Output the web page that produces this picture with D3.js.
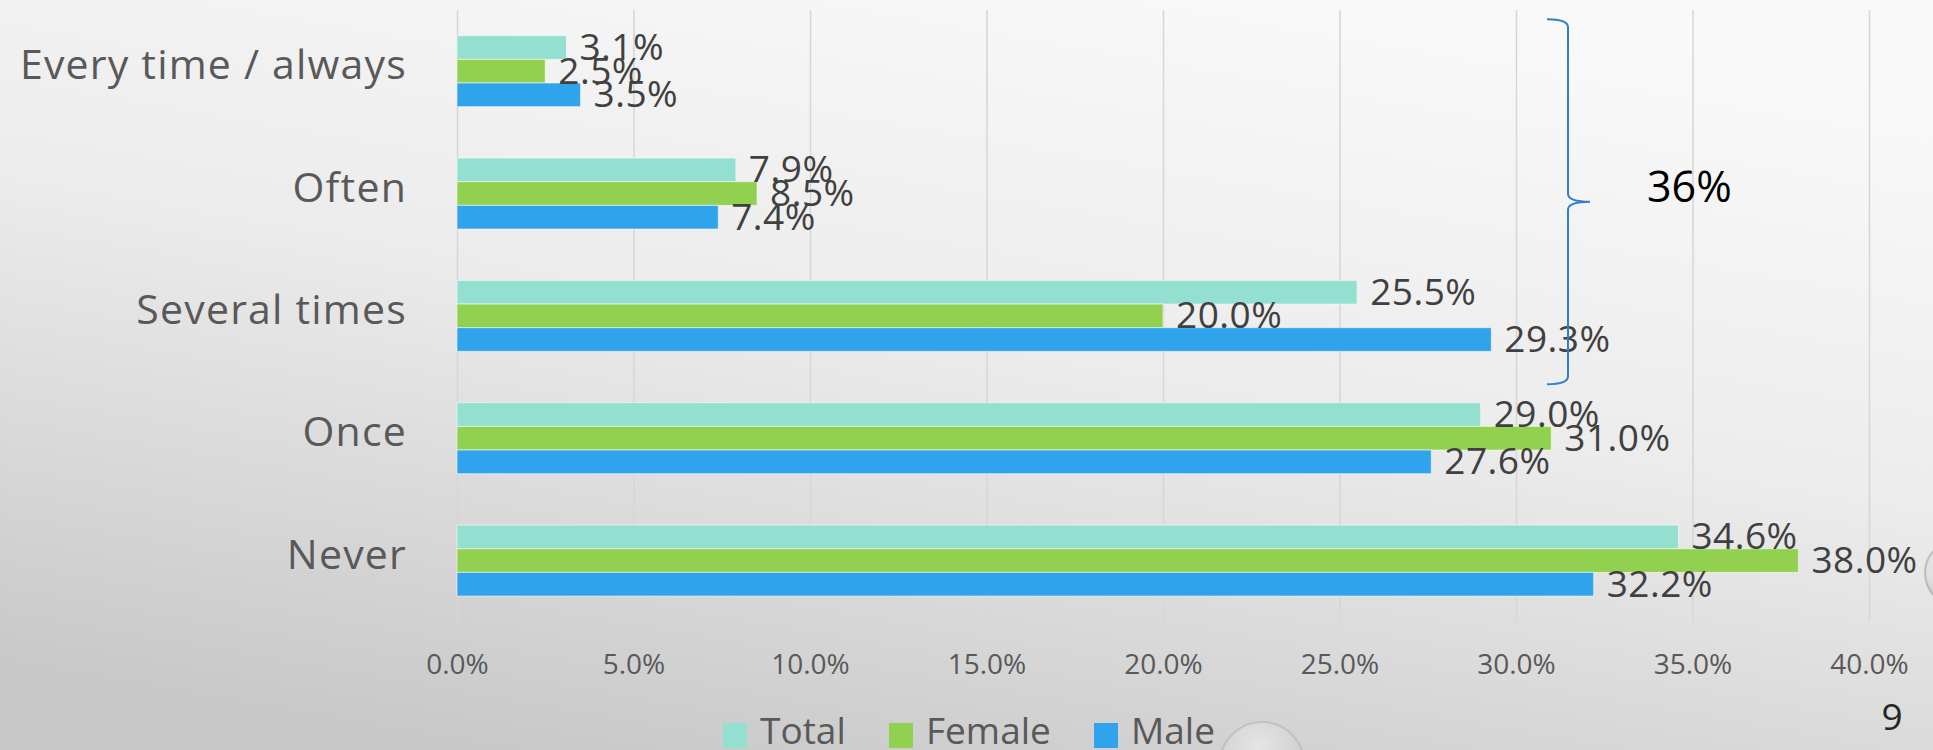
<!DOCTYPE html>
<html>
<head>
<meta charset="utf-8">
<script src="https://cdn.jsdelivr.net/npm/d3@7"></script>
<style>
  html, body { margin: 0; padding: 0; overflow: hidden; }
  svg { display: block; font-family: "Open Sans", sans-serif; }
</style>
</head>
<body>
<svg id="chart" width="1933" height="750"></svg>
<script>
// ---- data ----
const categories = ["Every time / always", "Often", "Several times", "Once", "Never"];
const seriesNames = ["Total", "Female", "Male"];
const totalValues  = [3.1, 7.9, 25.5, 29.0, 34.6];
const femaleValues = [2.5, 8.5, 20.0, 31.0, 38.0];
const maleValues   = [3.5, 7.4, 29.3, 27.6, 32.2];
const tickValues = [0, 5, 10, 15, 20, 25, 30, 35, 40];
const braceLabel = "36%";
const pageNumber = "9";

const seriesValues = { Total: totalValues, Female: femaleValues, Male: maleValues };
const colors = { Total: "#93e0d1", Female: "#92d050", Male: "#2fa3ec" };

const svg = d3.select("#chart");
const W = 1933, H = 750;

// background gradient
const defs = svg.append("defs");
const bg = defs.append("linearGradient").attr("id", "bg")
  .attr("x1", "0.7").attr("y1", "0").attr("x2", "0.25").attr("y2", "1");
bg.append("stop").attr("offset", "0").attr("stop-color", "#f9f9f9");
bg.append("stop").attr("offset", "0.45").attr("stop-color", "#ececec");
bg.append("stop").attr("offset", "1").attr("stop-color", "#c8c8c8");
svg.append("rect").attr("width", W).attr("height", H).attr("fill", "url(#bg)");

const bub = defs.append("radialGradient").attr("id", "bub")
  .attr("cx", "0.45").attr("cy", "0.3").attr("r", "0.65");
bub.append("stop").attr("offset", "0").attr("stop-color", "#f4f4f4").attr("stop-opacity", 0.6);
bub.append("stop").attr("offset", "0.75").attr("stop-color", "#d4d4d4").attr("stop-opacity", 0.4);
bub.append("stop").attr("offset", "1").attr("stop-color", "#a8a8a8").attr("stop-opacity", 0.6);

// scales
const x = d3.scaleLinear().domain([0, 40]).range([457, 1869]);
const y = d3.scaleBand().domain(categories).range([10, 621.75])
  .paddingInner(0.42).paddingOuter(0.21);
const ys = d3.scaleBand().domain(seriesNames).range([0, y.bandwidth()]);

// grid + axis
const axis = svg.append("g").attr("transform", `translate(0,${y.range()[1]})`)
  .call(d3.axisBottom(x).tickValues(tickValues)
    .tickSize(-(y.range()[1] - y.range()[0])).tickPadding(32)
    .tickFormat(d => d3.format(".1f")(d) + "%"));
axis.select(".domain").remove();
axis.selectAll(".tick line").attr("stroke", "#d6d6d6").attr("stroke-width", 1.5);
axis.selectAll(".tick text").attr("fill", "#595959")
  .style("font-size", "28px").style("font-family", "Open Sans, sans-serif");

// bars
const groups = svg.append("g").selectAll("g").data(categories).join("g")
  .attr("transform", d => `translate(0,${y(d)})`);

groups.each(function (cat, i) {
  const g = d3.select(this);
  seriesNames.forEach(s => {
    const v = seriesValues[s][i];
    g.append("rect")
      .attr("x", x(0)).attr("y", ys(s))
      .attr("width", x(v) - x(0)).attr("height", ys.bandwidth())
      .attr("fill", colors[s])
      .attr("stroke", "rgba(255,255,255,0.55)").attr("stroke-width", 1);
  });
});
groups.each(function (cat, i) {
  const g = d3.select(this);
  seriesNames.forEach(s => {
    const v = seriesValues[s][i];
    g.append("text")
      .attr("x", x(v) + 13).attr("y", ys(s) + ys.bandwidth() / 2 + 12.5)
      .attr("fill", "#404040").style("font-size", "37px").style("letter-spacing", "0.5px")
      .text(d3.format(".1f")(v) + "%");
  });
});

// category labels
svg.append("g").selectAll("text").data(categories).join("text")
  .attr("x", 407).attr("y", d => y(d) + y.bandwidth() / 2 + 8)
  .attr("text-anchor", "end").attr("fill", "#595959")
  .style("font-size", "41px").style("letter-spacing", "1.2px")
  .text(d => d);

// brace annotation
const bTop = y(categories[0]) - 16.5;
const bBot = y(categories[2]) + y.bandwidth() + 33;
const bMid = (bTop + bBot) / 2;
const bx0 = 1547, bx1 = 1568, bx2 = 1590;
const bp = d3.path();
bp.moveTo(bx0, bTop);
bp.quadraticCurveTo(bx1, bTop, bx1, bTop + 8);
bp.lineTo(bx1, bMid - 8);
bp.quadraticCurveTo(bx1, bMid, bx2, bMid);
bp.quadraticCurveTo(bx1, bMid, bx1, bMid + 8);
bp.lineTo(bx1, bBot - 8);
bp.quadraticCurveTo(bx1, bBot, bx0, bBot);
svg.append("path").attr("d", bp.toString()).attr("fill", "none")
  .attr("stroke", "#2e80c8").attr("stroke-width", 2);
svg.append("text").attr("x", 1647).attr("y", bMid)
  .attr("fill", "#000").style("font-size", "43px").text(braceLabel);

// legend
const legendX = [723, 889, 1094];
const lg = svg.append("g").selectAll("g").data(seriesNames).join("g")
  .attr("transform", (d, i) => `translate(${legendX[i]},723)`);
lg.append("rect").attr("width", 24).attr("height", 25).attr("fill", d => colors[d]);
lg.append("text").attr("x", 37).attr("y", 20.5).attr("fill", "#595959")
  .style("font-size", "37px").text(d => d);

// decorative bubbles
svg.append("circle").attr("cx", 1262).attr("cy", 764).attr("r", 42)
  .attr("fill", "url(#bub)").attr("stroke", "rgba(175,175,175,0.55)").attr("stroke-width", 2);
svg.append("circle").attr("cx", 1958).attr("cy", 573).attr("r", 33)
  .attr("fill", "url(#bub)").attr("stroke", "rgba(150,150,150,0.5)").attr("stroke-width", 2);

// page number
svg.append("text").attr("x", 1892).attr("y", 730).attr("text-anchor", "middle")
  .attr("fill", "#262626").style("font-size", "37px").text(pageNumber);
</script>
</body>
</html>
